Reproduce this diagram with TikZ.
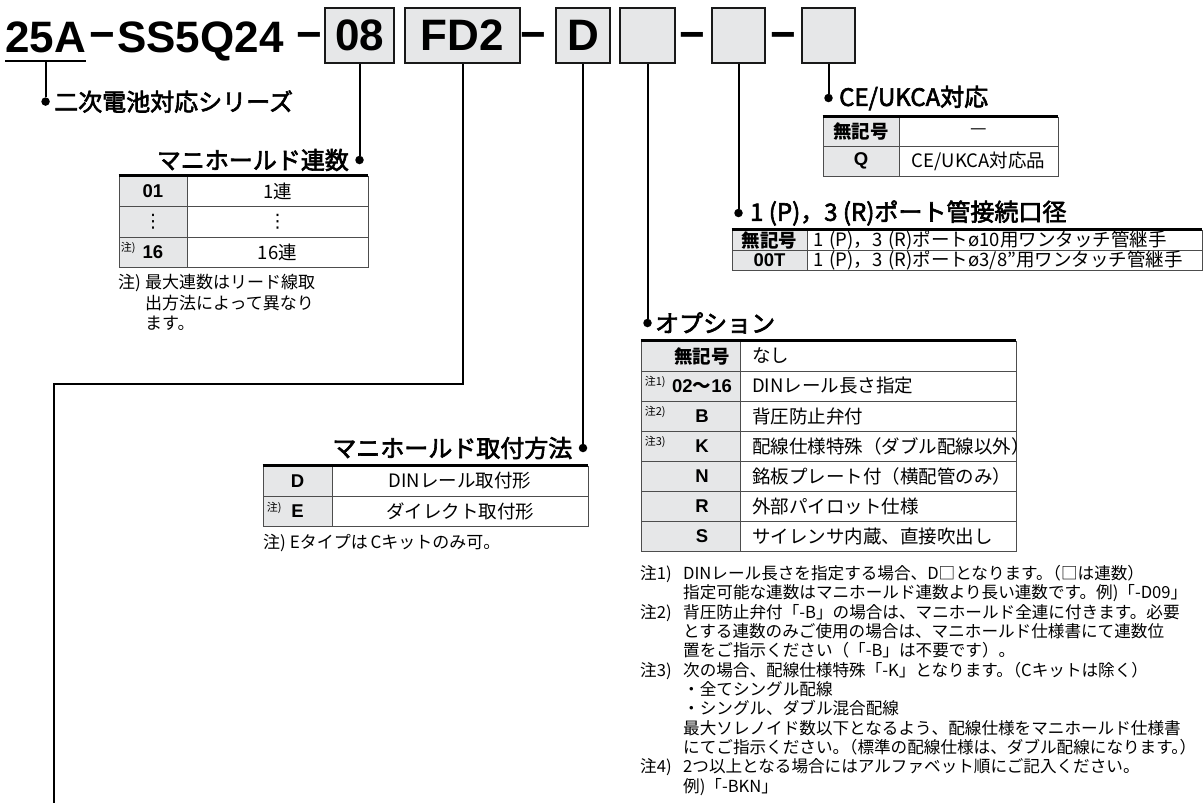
\documentclass[tikz,border=0pt]{standalone}
\usepackage{fontspec}
\setmainfont{Noto Sans CJK JP}
\newfontfamily\ttlfont[FakeBold=2.6]{Noto Sans CJK JP}
\newfontfamily\codefont{Liberation Sans}
\newfontfamily\symfont{DejaVu Sans}
\usepackage{tikz}
\usetikzlibrary{positioning,calc}
\definecolor{boxgray}{HTML}{E6E7E8}
\definecolor{cellline}{HTML}{4D4D4D}
\newcommand\jk{\kern-.5em}
\tikzset{
  codebox/.style={draw=black!90, line width=2.2pt, fill=boxgray, minimum height=55pt, inner sep=0pt,
                  font=\fontsize{44}{44}\selectfont\codefont\bfseries},
  codetxt/.style={inner sep=0pt, font=\fontsize{44}{44}\selectfont\codefont\bfseries},
  lead/.style={line width=2pt},
  dotmark/.style={circle, fill, inner sep=0pt, minimum size=8.5pt},
  ttl/.style={inner sep=0pt, font=\fontsize{24}{24}\ttlfont},
  cell/.style={draw=cellline, line width=0.9pt, inner sep=0pt, font=\fontsize{18.5}{18.5}\selectfont},
  keycell/.style={cell, fill=boxgray, font=\fontsize{18.5}{18.5}\selectfont\bfseries},
  desccell/.style={cell, fill=white},
  descl/.style={desccell, align=left, text width=#1},
  keytxt/.style={inner sep=0pt, font=\fontsize{18.5}{18.5}\selectfont\bfseries},
  toprule/.style={line width=2.8pt},
  notemark/.style={inner sep=0pt, anchor=north west, font=\fontsize{11}{11}\selectfont},
  notetxt/.style={inner sep=0pt, anchor=north west, align=left},
}

\begin{document}
\begin{tikzpicture}[x=1pt, y=-1pt]
  \useasboundingbox (0,0) rectangle (1203,803);
  % part number
  \node[codetxt, anchor=base west] (pfx) at (5,52) {25A};
  \node[codetxt, anchor=base west] (h1) at (89,49) {−};
  \node[codetxt, anchor=base west] (ser) at (117,52) {SS5Q24};
  \node[codetxt, anchor=base west] (h2) at (296,49) {−};
  \node[codebox, minimum width=69pt] (b08) at (359.5,35.5) {08};
  \node[codebox, minimum width=115pt] (bfd) at (462.5,35.5) {FD2};
  \node[codetxt, anchor=base] (h3) at (533.5,49) {−};
  \node[codebox, minimum width=54pt] (bd) at (583,35.5) {D};
  \node[codebox, minimum width=55pt] (bo) at (647.5,35.5) {};
  \node[codetxt, anchor=base] (h4) at (692.5,49) {−};
  \node[codebox, minimum width=53pt] (bp) at (738.5,35.5) {};
  \node[codetxt, anchor=base] (h5) at (783.5,49) {−};
  \node[codebox, minimum width=53pt] (bc) at (828.5,35.5) {};

  % dots and titles
  \coordinate (ul) at ([yshift=-8pt]pfx.south);
  \node[dotmark, below=36.5pt of ul] (dser) {};
  \node[dotmark] (dcnt) at (359.5,160) {};
  \node[dotmark] (dmnt) at (583,448) {};
  \node[dotmark] (dopt) at (647.5,323) {};
  \node[dotmark] (dprt) at (738.5,213) {};
  \node[dotmark] (dce) at (828.5,98) {};
  \node[ttl, right=4pt of dser] (tser) {二次電池対応シリーズ};
  \node[ttl, left=6pt of dcnt] (tcnt) {マニホールド連数};
  \node[ttl, left=6pt of dmnt] (tmnt) {マニホールド取付方法};
  \node[ttl, right=3pt of dopt] (topt) {オプション};
  \node[ttl, right=7pt of dprt] (tprt) {1 (P)，3 (R)ポート管接続口径};
  \node[ttl, right=6pt of dce] (tce) {CE/UKCA対応};

  % leaders
  \coordinate (bend) at (54,384);
  \coordinate (nxt) at (54,806);
  \draw[lead] ([yshift=-8pt]pfx.south west) -- ([yshift=-8pt]pfx.south east);
  \draw[lead] (ul) -- (dser);
  \draw[lead] (b08) -- (dcnt); \draw[lead] (bd) -- (dmnt); \draw[lead] (bo) -- (dopt);
  \draw[lead] (bp) -- (dprt); \draw[lead] (bc) -- (dce);
  \draw[lead] (bfd) |- (bend) -- (nxt);

  % manifold stations
  \node[keycell, minimum width=68pt, minimum height=30.5pt] (c1k) at (153,191.25) {\codefont 01};
  \node[desccell, minimum width=181pt, minimum height=30.5pt] (c1d) at (277.5,191.25) {1連};
  \node[keycell, minimum width=68pt, minimum height=30.5pt] (c2k) at (153,221.75) {\symfont\mdseries ⋮};
  \node[desccell, minimum width=181pt, minimum height=30.5pt] (c2d) at (277.5,221.75) {\symfont ⋮};
  \node[keycell, minimum width=68pt, minimum height=30.5pt] (c3k) at (153,252.25) {\codefont 16};
  \node[desccell, minimum width=181pt, minimum height=30.5pt] (c3d) at (277.5,252.25) {16連};
  \node[notemark] (c3n) at ([xshift=2pt,yshift=-5pt]c3k.north west) {注)};
  \draw[toprule] (c1k.north west) -- (c1d.north east);
  \node[notetxt, font=\fontsize{17}{20.5}\selectfont] (cntnote) at (118,274) {\begin{tabular}{@{}p{27pt}@{}l@{}}
    注) & 最大連数はリード線取\\
        & 出方法によって異なり\\
        & ます。
  \end{tabular}};

  % mounting
  \node[keycell, minimum width=69pt, minimum height=30pt] (m1k) at (297.5,481) {\codefont D};
  \node[desccell, minimum width=256pt, minimum height=30pt] (m1d) at (460,481) {DINレール取付形};
  \node[keycell, minimum width=69pt, minimum height=30pt] (m2k) at (297.5,511) {\codefont E};
  \node[desccell, minimum width=256pt, minimum height=30pt] (m2d) at (460,511) {ダイレクト取付形};
  \node[notemark] (m2n) at ([xshift=4pt,yshift=-6pt]m2k.north west) {注)};
  \draw[toprule] (m1k.north west) -- (m1d.north east);
  \node[notetxt, anchor=west, font=\fontsize{17}{17}\selectfont] (mntnote) at (263,543) {注) Eタイプは\,Cキットのみ可。};

  % options
  \node[keycell, minimum width=99pt, minimum height=30pt] (o1k) at (690.5,356) {};
  \node[keycell, minimum width=99pt, minimum height=30pt] (o2k) at (690.5,386) {};
  \node[keycell, minimum width=99pt, minimum height=30pt] (o3k) at (690.5,416) {};
  \node[keycell, minimum width=99pt, minimum height=30pt] (o4k) at (690.5,446) {};
  \node[keycell, minimum width=99pt, minimum height=30pt] (o5k) at (690.5,476) {};
  \node[keycell, minimum width=99pt, minimum height=30pt] (o6k) at (690.5,506) {};
  \node[keycell, minimum width=99pt, minimum height=30pt] (o7k) at (690.5,536) {};
  \node[keytxt] (o1t) at (702,356) {無記号};
  \node[keytxt] (o2t) at (702,386) {{\codefont 02}〜{\codefont 16}};
  \node[keytxt] (o3t) at (702,416) {\codefont B};
  \node[keytxt] (o4t) at (702,446) {\codefont K};
  \node[keytxt] (o5t) at (702,476) {\codefont N};
  \node[keytxt] (o6t) at (702,506) {\codefont R};
  \node[keytxt] (o7t) at (702,536) {\codefont S};
  \node[notemark] (o2n) at ([xshift=4pt,yshift=-5pt]o2k.north west) {注1)};
  \node[notemark] (o3n) at ([xshift=4pt,yshift=-5pt]o3k.north west) {注2)};
  \node[notemark] (o4n) at ([xshift=4pt,yshift=-5pt]o4k.north west) {注3)};
  \node[descl=252pt, inner xsep=12pt, minimum height=30pt] (o1d) at (878,356) {なし};
  \node[descl=252pt, inner xsep=12pt, minimum height=30pt] (o2d) at (878,386) {DINレール長さ指定};
  \node[descl=252pt, inner xsep=12pt, minimum height=30pt] (o3d) at (878,416) {背圧防止弁付};
  \node[descl=252pt, inner xsep=12pt, minimum height=30pt] (o4d) at (878,446) {配線仕様特殊（ダブル配線以外）};
  \node[descl=252pt, inner xsep=12pt, minimum height=30pt] (o5d) at (878,476) {銘板プレート付（横配管のみ）};
  \node[descl=252pt, inner xsep=12pt, minimum height=30pt] (o6d) at (878,506) {外部パイロット仕様};
  \node[descl=252pt, inner xsep=12pt, minimum height=30pt] (o7d) at (878,536) {サイレンサ内蔵、直接吹出し};
  \draw[toprule] (o1k.north west) -- (o1d.north east);
  \node[notetxt, font=\fontsize{16.6}{17.5}\selectfont] (optnote) at (640,565) {\begin{tabular}{@{}p{43pt}@{}l@{}}
    注1) & DINレール長さを指定する場合、D□となります。\jk（□は連数）\\
         & 指定可能な連数はマニホールド連数より長い連数です。例)「-D09」\\
    注2) & 背圧防止弁付「-B」の場合は、マニホールド全連に付きます。必要\\
         & とする連数のみご使用の場合は、マニホールド仕様書にて連数位\\
         & 置をご指示ください（「-B」は不要です）。\\
    注3) & 次の場合、配線仕様特殊「-K」となります。\jk（Cキットは除く）\\
         & ・全てシングル配線\\
         & ・シングル、ダブル混合配線\\
         & 最大ソレノイド数以下となるよう、配線仕様をマニホールド仕様書\\
         & にてご指示ください。\jk（標準の配線仕様は、ダブル配線になります。\jk）\\
    注4) & 2つ以上となる場合にはアルファベット順にご記入ください。\\
         & 例)「-BKN」
  \end{tabular}};

  % port size
  \node[keycell, minimum width=75pt, minimum height=20pt] (p1k) at (769.5,240) {無記号};
  \node[descl=383pt, inner xsep=6pt, minimum height=20pt] (p1d) at (1004.5,240) {1 (P)，3 (R)ポートø10用ワンタッチ管継手};
  \node[keycell, minimum width=75pt, minimum height=20pt] (p2k) at (769.5,260) {\codefont 00T};
  \node[descl=383pt, inner xsep=6pt, minimum height=20pt] (p2d) at (1004.5,260) {1 (P)，3 (R)ポートø3/8"用ワンタッチ管継手};
  \draw[toprule] (p1k.north west) -- (p1d.north east);

  % CE/UKCA
  \node[keycell, minimum width=76pt, minimum height=29.5pt] (e1k) at (861,131.75) {無記号};
  \node[desccell, minimum width=159pt, minimum height=29.5pt] (e1d) at (978.5,131.75) {—};
  \node[keycell, minimum width=76pt, minimum height=29.5pt] (e2k) at (861,161.25) {\codefont Q};
  \node[desccell, minimum width=159pt, minimum height=29.5pt] (e2d) at (978.5,161.25) {CE/UKCA対応品};
  \draw[toprule] (e1k.north west) -- (e1d.north east);
\end{tikzpicture}
\end{document}
